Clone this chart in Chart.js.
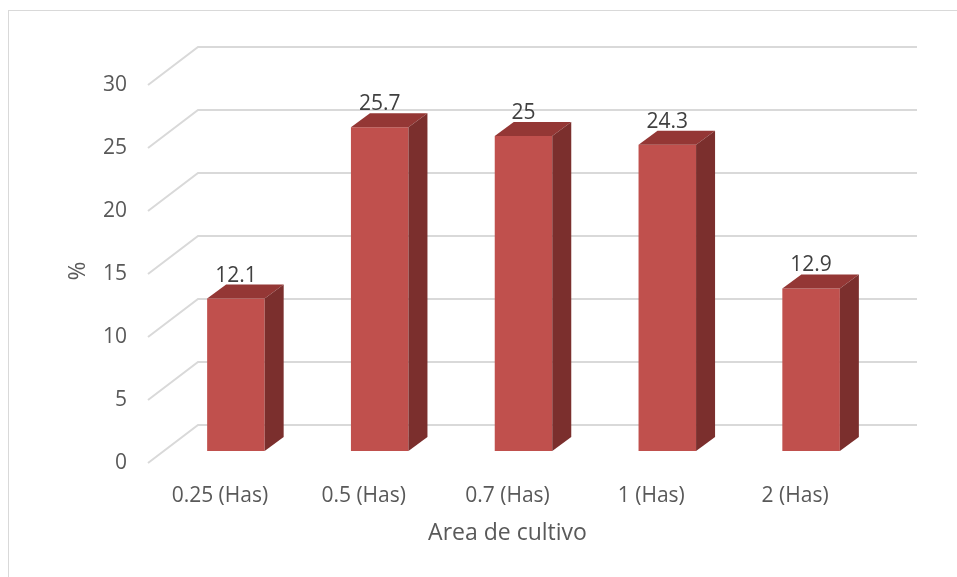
<!DOCTYPE html>
<html>
<head>
<meta charset="utf-8">
<script src="https://cdn.jsdelivr.net/npm/chart.js@4.4.0/dist/chart.umd.min.js"></script>
<style>
  html, body { margin: 0; padding: 0; background: #fff; overflow: hidden; }
  #wrap { position: relative; width: 957px; height: 577px; }
  #frame { position: absolute; left: 8px; top: 10px; width: 980px; height: 600px; border: 1px solid #d9d9d9; }
  canvas { position: absolute; left: 0; top: 0; }
</style>
</head>
<body>
<div id="wrap">
  <div id="frame"></div>
  <canvas id="areaChart" width="957" height="577"></canvas>
</div>
<script>
// Chart data
const categories = ['0.25 (Has)', '0.5 (Has)', '0.7 (Has)', '1 (Has)', '2 (Has)'];
const percentValues = [12.1, 25.7, 25, 24.3, 12.9];
const yTicks = [0, 5, 10, 15, 20, 25, 30];
const xTitle = 'Area de cultivo';
const yTitle = '%';

// Fake 3D offsets (pixels) relative to the plane of the bar fronts
const WALL = { dx: 34, dy: -26 };   // back wall
const FRONT = { dx: -16, dy: 12 };  // front edge of the floor
const DEPTH = { dx: 19, dy: -14 };  // bar depth

const FONT = '"Open Sans", "DejaVu Sans", sans-serif';

const depthPlugin = {
    id: 'depth3d',
    beforeDatasetsDraw(chart) {
        const ctx = chart.ctx;
        const yScale = chart.scales.y;
        const area = chart.chartArea;
        ctx.save();
        ctx.strokeStyle = '#d9d9d9';
        ctx.lineWidth = 2;
        yTicks.forEach(v => {
            const py = yScale.getPixelForValue(v);
            ctx.beginPath();
            ctx.moveTo(area.left + FRONT.dx, py + FRONT.dy);
            ctx.lineTo(area.left + WALL.dx, py + WALL.dy);
            ctx.lineTo(area.right + WALL.dx, py + WALL.dy);
            ctx.stroke();
        });
        ctx.restore();
    },
    afterDatasetsDraw(chart) {
        const ctx = chart.ctx;
        const meta = chart.getDatasetMeta(0);
        ctx.save();
        meta.data.forEach((bar, i) => {
            const p = bar.getProps(['x', 'y', 'base', 'width'], true);
            const left = p.x - p.width / 2;
            const right = p.x + p.width / 2;
            // top face
            ctx.fillStyle = '#943735';
            ctx.beginPath();
            ctx.moveTo(left, p.y);
            ctx.lineTo(left + DEPTH.dx, p.y + DEPTH.dy);
            ctx.lineTo(right + DEPTH.dx, p.y + DEPTH.dy);
            ctx.lineTo(right, p.y);
            ctx.closePath();
            ctx.fill();
            // side face
            ctx.fillStyle = '#7b2f2d';
            ctx.beginPath();
            ctx.moveTo(right, p.y);
            ctx.lineTo(right + DEPTH.dx, p.y + DEPTH.dy);
            ctx.lineTo(right + DEPTH.dx, p.base + DEPTH.dy);
            ctx.lineTo(right, p.base);
            ctx.closePath();
            ctx.fill();
            // value label
            ctx.fillStyle = '#404040';
            ctx.font = '21px ' + FONT;
            ctx.textAlign = 'center';
            ctx.textBaseline = 'middle';
            ctx.fillText(String(percentValues[i]), p.x, p.y - 23);
        });
        ctx.restore();
    },
    afterDraw(chart) {
        const ctx = chart.ctx;
        const area = chart.chartArea;
        ctx.save();
        ctx.fillStyle = '#595959';
        ctx.font = '23px ' + FONT;
        ctx.textAlign = 'center';
        ctx.textBaseline = 'middle';
        ctx.fillText(xTitle, (area.left + area.right) / 2 + FRONT.dx, 533);
        ctx.translate(78, 271);
        ctx.rotate(-Math.PI / 2);
        ctx.fillText(yTitle, 0, 0);
        ctx.restore();
    }
};

const ctx = document.getElementById('areaChart').getContext('2d');
new Chart(ctx, {
    type: 'bar',
    data: {
        labels: categories,
        datasets: [{
            data: percentValues,
            backgroundColor: '#c0504d',
            borderWidth: 0,
            barPercentage: 0.4,
            categoryPercentage: 1
        }]
    },
    options: {
        responsive: false,
        animation: false,
        events: [],
        layout: { padding: { left: 0, right: 74, top: 73, bottom: 0 } },
        plugins: {
            legend: { display: false },
            tooltip: { enabled: false }
        },
        scales: {
            x: {
                grid: { display: false, drawTicks: false },
                border: { display: false },
                ticks: {
                    color: '#595959',
                    font: { family: FONT, size: 21 },
                    padding: 32,
                    labelOffset: FRONT.dx,
                    maxRotation: 0
                },
                afterFit(scale) { scale.height = 126; }
            },
            y: {
                min: 0,
                max: 30,
                grid: { display: false, drawTicks: false },
                border: { display: false },
                ticks: {
                    stepSize: 5,
                    color: '#595959',
                    font: { family: FONT, size: 21 },
                    padding: 37,
                    labelOffset: FRONT.dy
                },
                afterFit(scale) { scale.width = 164; }
            }
        }
    },
    plugins: [depthPlugin]
});
</script>
</body>
</html>
